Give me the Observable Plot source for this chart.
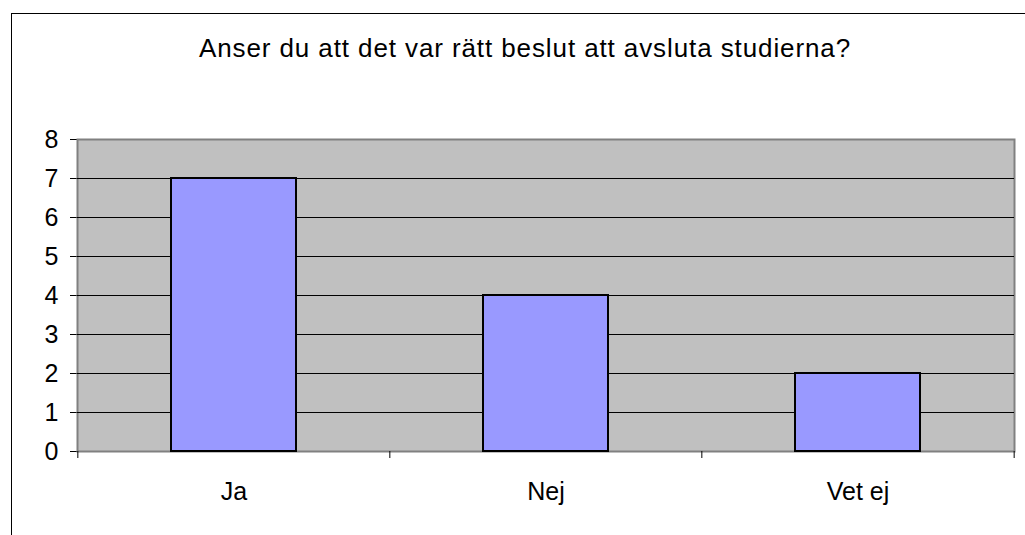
<!DOCTYPE html>
<html><head><meta charset="utf-8">
<script src="https://cdn.jsdelivr.net/npm/d3@7"></script>
<script src="https://cdn.jsdelivr.net/npm/@observablehq/plot@0.6"></script>
<style>
body{margin:0;background:#fff;font-family:"Liberation Sans",Arial,sans-serif;}
#wrap{position:relative;width:1025px;height:535px;overflow:hidden;}
#border{position:absolute;left:11px;top:13px;width:1100px;height:600px;border-left:1px solid #000;border-top:1px solid #000;}
#title{position:absolute;left:11px;width:1028px;top:33px;text-align:center;font-size:26px;letter-spacing:0.9px;line-height:30px;color:#000;}
#chart{position:absolute;left:0;top:100px;}
</style></head>
<body><div id="wrap"><div id="border"></div><div id="title"></div><div id="chart"></div></div>
<script>
const title = "Anser du att det var rätt beslut att avsluta studierna?";
const categories = ["Ja", "Nej", "Vet ej"];
const values = [7, 4, 2];
const yTicks = [0, 1, 2, 3, 4, 5, 6, 7, 8];
const gridValues = [1, 2, 3, 4, 5, 6, 7];

document.getElementById("title").textContent = title;
const data = categories.map((c, i) => ({cat: c, v: values[i]}));

const W = 1025, H = 435, mL = 77, mR = 11, mT = 39, mB = 84;
const step = (W - mL - mR) / categories.length;

const plot = Plot.plot({
  width: W, height: H,
  marginLeft: mL, marginRight: mR, marginTop: mT, marginBottom: mB,
  style: {fontSize: "25px", fontFamily: "'Liberation Sans', Arial, sans-serif", color: "#000", background: "transparent"},
  x: {domain: categories, paddingInner: 0.6, paddingOuter: 0.3, tickSize: 0, tickPadding: 31, label: null},
  y: {domain: [0, 8], ticks: yTicks, tickSize: 7, tickPadding: 12, label: null},
  marks: [
    Plot.frame({fill: "#c0c0c0", stroke: "#808080", strokeWidth: 2}),
    Plot.ruleY(gridValues, {stroke: "#000", strokeWidth: 1}),
    Plot.barY(data, {x: "cat", y: "v", fill: "#9999ff", stroke: "#000", strokeWidth: 2}),
    Plot.ruleX(categories, {x: d => d, y1: 0, y2: 0, insetBottom: -7, dx: -step / 2, stroke: "#000"}),
    Plot.ruleX(categories.slice(-1), {x: d => d, y1: 0, y2: 0, insetBottom: -7, dx: step / 2, stroke: "#000"})
  ]
});
document.getElementById("chart").appendChild(plot);
</script></body></html>
